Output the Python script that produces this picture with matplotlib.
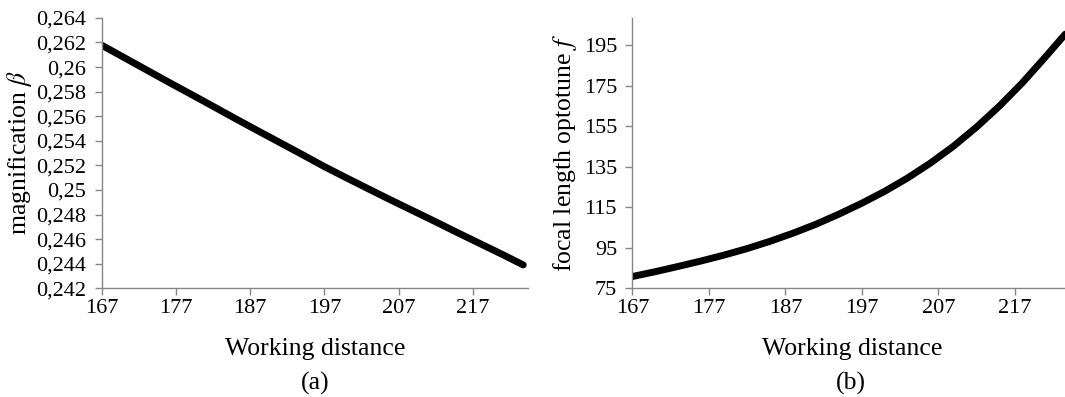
import matplotlib
matplotlib.use("Agg")
import matplotlib.pyplot as plt

plt.rcParams["font.family"] = ["Liberation Serif", "DejaVu Serif"]
plt.rcParams["mathtext.fontset"] = "stix"

# ---- data ----
wd_a = [167, 170, 173, 176, 179, 182, 185, 188, 191, 194,
        197, 200, 203, 206, 209, 212, 215, 218, 221, 223.8]
magnification = [0.26178, 0.26078, 0.25978, 0.25878, 0.25780, 0.25681,
                 0.25581, 0.25483, 0.25386, 0.25289, 0.25190, 0.25098,
                 0.25007, 0.24917, 0.24829, 0.24741, 0.24651, 0.24563,
                 0.24475, 0.24390]

wd_b = [167, 170, 173, 176, 179, 182, 185, 188, 191, 194,
        197, 200, 203, 206, 209, 212, 215, 218, 221, 223.6]
focal = [80.8, 83.2, 85.8, 88.5, 91.4, 94.6, 98.2, 102.2, 106.6, 111.6,
         117.0, 122.9, 129.5, 136.9, 145.2, 154.6, 165.0, 176.5, 189.2, 200.5]

x_ticks = [167, 177, 187, 197, 207, 217]
y_ticks_a = [0.242, 0.244, 0.246, 0.248, 0.25, 0.252, 0.254,
             0.256, 0.258, 0.26, 0.262, 0.264]
y_ticks_b = [75, 95, 115, 135, 155, 175, 195]

W, H = 1065, 397
fig = plt.figure(figsize=(W / 100, H / 100), dpi=100)

axis_grey = "#868686"
tick_fs = 16
label_fs = 18.5


def style_axes(ax):
    for s in ("top", "right"):
        ax.spines[s].set_visible(False)
    for s in ("left", "bottom"):
        ax.spines[s].set_color(axis_grey)
        ax.spines[s].set_linewidth(1.0)
    ax.tick_params(direction="out", length=5, width=1.0, color=axis_grey,
                   labelsize=tick_fs, labelcolor="black")
    ax.tick_params(axis="x", pad=3)
    ax.tick_params(axis="y", pad=6)
    ax.set_xticks(x_ticks)
    ax.set_xticklabels([str(t) for t in x_ticks])


# ---- (a) magnification ----
ax1 = fig.add_axes([101.7 / W, (H - 288.3) / H, 426 / W, 270.4 / H])
ax1.plot(wd_a, magnification, color="black", linewidth=5,
         solid_capstyle="round", solid_joinstyle="round")
ax1.set_xlim(167, 224.4)
ax1.set_ylim(0.242, 0.264)
style_axes(ax1)
ax1.set_yticks(y_ticks_a)
ax1.set_yticklabels([f"{t:.3f}".rstrip("0").replace(".", ",") for t in y_ticks_a])
ax1.set_xlabel("Working distance", fontsize=label_fs, labelpad=14)
ax1.set_ylabel(r"magnification $\beta$", fontsize=label_fs, labelpad=2)

# ---- (b) focal length ----
ax2 = fig.add_axes([632.3 / W, (H - 288.3) / H, 57.4 * 7.65 / W, 270.6 / H])
ax2.plot(wd_b, focal, color="black", linewidth=5,
         solid_capstyle="round", solid_joinstyle="round")
ax2.set_xlim(167, 224.4)
ax2.set_ylim(75, 208.6)
style_axes(ax2)
ax2.set_yticks(y_ticks_b)
ax2.set_yticklabels([str(t) for t in y_ticks_b])
ax2.set_xlabel("Working distance", fontsize=label_fs, labelpad=14)
ax2.set_ylabel(r"focal length optotune $f$", fontsize=label_fs, labelpad=3)

fig.text(314.7 / W, 1 - 383 / H, "(a)", fontsize=label_fs,
         ha="center", va="center")
fig.text(851 / W, 1 - 383 / H, "(b)", fontsize=label_fs,
         ha="center", va="center")

fig.savefig("out.png", dpi=100)
